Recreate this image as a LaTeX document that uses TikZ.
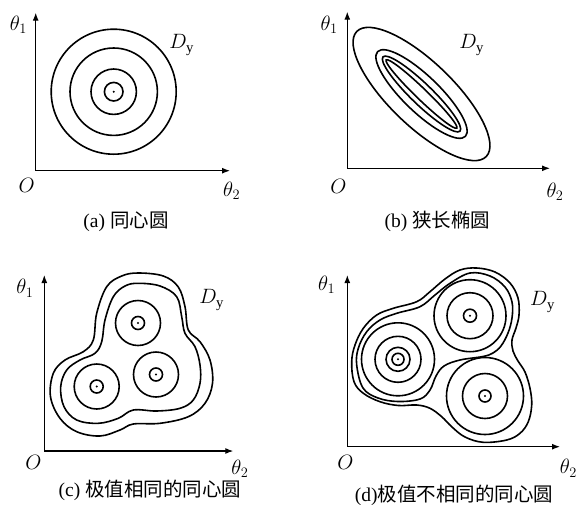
\documentclass[tikz,border=0pt]{standalone}
\usepackage{fontspec}
\setmainfont{Liberation Serif}
\newfontfamily\cjk{Noto Sans CJK SC}
\usepackage{amsmath}
\usetikzlibrary{arrows.meta, positioning}
\tikzset{
	axis/.style={draw, line width=1.2pt, -{Latex[length=8pt, width=6pt]}},
	contour/.style={draw, line width=1.6pt},
	centre/.style={circle, fill, inner sep=0pt, minimum size=2.2pt},
	lbl/.style={inner sep=1pt, font=\fontsize{21}{24}\selectfont},
	capt/.style={inner sep=1pt, font=\fontsize{19.5}{22}\selectfont}
}

\begin{document}
\begin{tikzpicture}[x=1pt, y=-1pt]
		\useasboundingbox (0,0) rectangle (583,504);
		% (a) concentric circles
		\coordinate (Oa) at (35.7,170.7);
		\coordinate (Ya) at (35.7,12.7);
		\coordinate (Xa) at (230,170.7);
		\draw[axis] (Oa) -- (Ya);
		\draw[axis] (Oa) -- (Xa);
		\node[centre] (ca) at (113.7,91.7) {};
		\foreach \r in {9.3,22.7,43.7,62.5}
			\draw[contour] (ca) circle[radius=\r pt];
		\node[lbl] (t1a) at (18.3,25) {$\theta_1$};
		\node[lbl] (t2a) at (231.7,191) {$\theta_2$};
		\node[lbl] (oa) at (26.7,185) {$O$};
		\node[lbl] (da) at (181.7,45) {$D_{\mathrm{y}}$};
		\node[capt] (capa) at (126,221.7) {(a) {\cjk 同心圆}};

		% (b) narrow ellipses
		\coordinate (Ob) at (347.3,168.3);
		\coordinate (Yb) at (347.3,11.7);
		\coordinate (Xb) at (550,168.3);
		\draw[axis] (Ob) -- (Yb);
		\draw[axis] (Ob) -- (Xb);
		\coordinate (cb) at (421.5,94);
		\draw[contour, rotate around={-44:(cb)}] (cb) ellipse[x radius=90pt, y radius=32pt];
		\draw[contour, rotate around={-44:(cb)}] (cb) ellipse[x radius=61pt, y radius=18pt];
		\draw[contour, rotate around={-44:(cb)}] (cb) ellipse[x radius=53.5pt, y radius=10.5pt];
		\draw[contour, rotate around={-44:(cb)}] (cb) ellipse[x radius=49pt, y radius=5.5pt];
		\node[lbl] (t1b) at (329.2,25) {$\theta_1$};
		\node[lbl] (t2b) at (555,192) {$\theta_2$};
		\node[lbl] (ob) at (338.3,186) {$O$};
		\node[lbl] (db) at (471.7,45) {$D_{\mathrm{y}}$};
		\node[capt] (capb) at (437.5,221.7) {(b) {\cjk 狭长椭圆}};

		% (c) equal extrema
		\coordinate (Oc) at (44.3,451);
		\coordinate (Yc) at (44.3,275);
		\coordinate (Xc) at (233.3,451);
		\draw[axis] (Oc) -- (Yc);
		\draw[axis] (Oc) -- (Xc);
		\node[centre] (ct) at (138,323) {};
		\node[centre] (cr) at (156,374.5) {};
		\node[centre] (cl) at (96.7,386.5) {};
		\foreach \c in {ct,cr,cl} {
			\draw[contour] (\c) circle[radius=6.5pt];
			\draw[contour] (\c) circle[radius=22.5pt];
		}
		\draw[contour] plot[smooth cycle, tension=0.6] coordinates {
			(138.3,283.3) (160,286) (176.7,296.7) (181.7,316.7) (185,333.3)
			(195,346.7) (200,365) (200,383.3) (193.3,400) (180,408.3)
			(156.7,411) (133.3,410) (118.3,418.3) (98.3,423.3) (76.7,420)
			(64,406.7) (60.7,386.7) (66.7,370) (80,360) (95,353.3)
			(101.7,341.7) (105,320) (113.3,296.7) (125,286)};
		\draw[contour] plot[smooth cycle, tension=0.6] coordinates {
			(138.3,273) (163.3,276) (178.3,287) (185,306.7) (188.3,330)
			(200,341.7) (210,360) (212.5,383.3) (205,403.3) (188.3,416.7)
			(160,423.3) (133.3,424) (120,430) (100,436) (76.7,431.7)
			(60,418.3) (50.5,396.7) (53.3,373.3) (65,360) (83.3,351.7)
			(93.3,340) (96.7,313.3) (106.7,286.7) (121.7,276)};
		\node[lbl] (t1c) at (25,288.3) {$\theta_1$};
		\node[lbl] (t2c) at (240,469) {$\theta_2$};
		\node[lbl] (oc) at (33.3,462.5) {$O$};
		\node[lbl] (dc) at (211.7,300) {$D_{\mathrm{y}}$};
		\node[capt] (capc) at (150,490) {(c) {\cjk 极值相同的同心圆}};

		% (d) different extrema
		\coordinate (Od) at (347.3,446.7);
		\coordinate (Yd) at (347.3,275);
		\coordinate (Xd) at (560,446.7);
		\draw[axis] (Od) -- (Yd);
		\draw[axis] (Od) -- (Xd);
		\node[centre] (dtr) at (470,315.7) {};
		\node[centre] (dl) at (398,359.3) {};
		\node[centre] (dbr) at (485,396) {};
		\foreach \r in {6.5,23,36}
			\draw[contour] (dtr) circle[radius=\r pt];
		\foreach \r in {6,12,23,36.5}
			\draw[contour] (dl) circle[radius=\r pt];
		\foreach \r in {6,22.5,38.5}
			\draw[contour] (dbr) circle[radius=\r pt];
		\draw[contour] plot[smooth cycle, tension=0.6] coordinates {
			(356.7,365) (358.3,348.3) (366.7,331.7) (380,320) (396.7,313.3)
			(420,306.7) (435,295) (450,283.3) (470,273) (490,276)
			(505,287) (512,302) (512,318) (508,333) (501,346)
			(493,353) (483,356.5) (460,360) (444,366) (436,376)
			(430,390) (420,399) (398,401.5) (378,398) (363,388)};
		\draw[contour] plot[smooth cycle, tension=0.6] coordinates {
			(351.7,361.7) (355,345) (363.3,328.3) (376.7,315) (393.3,308.3)
			(416.7,301.7) (430,291.7) (445,279) (460,270) (476.7,268)
			(495,272) (510,283) (518,298) (519,315) (516,328)
			(512,340) (513,351) (518,361) (525,372) (530,388.3)
			(531.7,405) (528.3,421.7) (520,433.3) (506.7,440) (483.3,442.3)
			(465,437) (452,427) (441.7,416.7) (430,408.3) (416.7,405)
			(398.3,405.5) (380,401.7) (363.3,393.3) (354,381.7)};
		\node[lbl] (t1d) at (326.7,285) {$\theta_1$};
		\node[lbl] (t2d) at (568.3,468.3) {$\theta_2$};
		\node[lbl] (od) at (345.5,462.5) {$O$};
		\node[lbl] (dd) at (542.5,302) {$D_{\mathrm{y}}$};
		\node[capt] (capd) at (454,495) {(d){\cjk 极值不相同的同心圆}};
\end{tikzpicture}
\end{document}
